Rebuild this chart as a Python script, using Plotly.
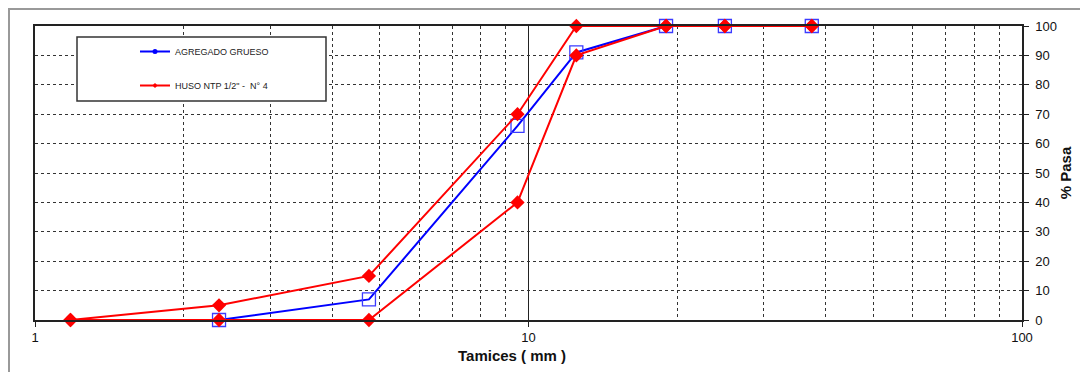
import plotly.graph_objects as go

# Data
sieves_blue = [2.36, 4.75, 9.5, 12.5, 19.0, 25.0, 37.5]
pasa_blue = [0, 7, 66, 91, 100, 100, 100]

sieves_huso = [1.18, 2.36, 4.75, 9.5, 12.5, 19.0, 25.0, 37.5]
huso_sup = [0, 5, 15, 70, 100, 100, 100, 100]
huso_inf = [0, 0, 0, 40, 90, 100, 100, 100]

name_blue = "AGREGADO GRUESO"
name_red = "HUSO NTP 1/2\" -  N° 4"

BLUE = "#0000ff"
RED = "#ff0000"

fig = go.Figure()
fig.add_trace(go.Scatter(
    x=sieves_blue, y=pasa_blue, mode="lines+markers", name=name_blue,
    showlegend=False, cliponaxis=False, line=dict(color=BLUE, width=2),
    marker=dict(symbol="square-open", size=13, color="#3b3bff", line=dict(width=1.3)),
))
fig.add_trace(go.Scatter(
    x=sieves_huso, y=huso_sup, mode="lines+markers", name=name_red,
    showlegend=False, cliponaxis=False, line=dict(color=RED, width=2),
    marker=dict(symbol="diamond", size=11, color=RED),
))
fig.add_trace(go.Scatter(
    x=sieves_huso, y=huso_inf, mode="lines+markers", name=name_red,
    showlegend=False, cliponaxis=False, line=dict(color=RED, width=2),
    marker=dict(symbol="diamond", size=11, color=RED),
))
# legend entries (small markers as in the original)
fig.add_trace(go.Scatter(
    x=[None], y=[None], mode="lines+markers", name=name_blue, legendgroup="b",
    line=dict(color=BLUE, width=2), marker=dict(symbol="circle", size=5, color=BLUE),
))
fig.add_trace(go.Scatter(
    x=[None], y=[None], mode="lines+markers", name=name_red, legendgroup="r",
    line=dict(color=RED, width=2), marker=dict(symbol="diamond", size=4, color=RED),
))

# page has an 8px body margin; figure coordinates = page - 8
OFF = 8
W, H = 1088 - OFF, 372 - OFF
L, T = 35 - OFF, 26 - OFF
R = W - (1022 - OFF)
B = H - (320 - OFF)
pw, ph = W - L - R, H - T - B

def px_x(p):  # page px -> paper
    return (p - OFF - L) / pw

def px_y(p):
    return (H - B - (p - OFF)) / ph

fig.update_layout(
    width=W, height=H,
    margin=dict(l=L, r=R, t=T, b=B, autoexpand=False),
    paper_bgcolor="white", plot_bgcolor="white",
    font=dict(family="Liberation Sans, Arial, sans-serif", color="#111", size=13),
    showlegend=True,
    legend=dict(
        x=px_x(135), y=px_y(37), xanchor="left", yanchor="top",
        bgcolor="rgba(0,0,0,0)", borderwidth=0,
        font=dict(size=9, color="#222"),
        traceorder="grouped", tracegroupgap=15,
        itemwidth=30,
    ),
    xaxis=dict(
        type="log", range=[0, 2], dtick=1,
        showline=True, linecolor="#222", linewidth=1.5, mirror=True,
        ticks="outside", ticklen=5, tickcolor="#222",
        showgrid=True, gridcolor="#222", gridwidth=1,
        minor=dict(dtick="D1", showgrid=True, gridcolor="#333",
                   griddash="dot", gridwidth=1, ticks=""),
        zeroline=False,
        tickfont=dict(size=13),
    ),
    yaxis=dict(
        side="right", range=[0, 100], dtick=10,
        showline=True, linecolor="#222", linewidth=1.5, mirror=True,
        ticks="outside", ticklen=5, tickcolor="#222",
        ticklabelstandoff=4,
        showgrid=True, gridcolor="#333", griddash="dot", gridwidth=1,
        zeroline=False,
        title=dict(text="<b>% Pasa</b>", font=dict(size=15, color="#111"),
                   standoff=4),
        tickfont=dict(size=13),
    ),
    annotations=[
        dict(text="<b>Tamices ( mm )</b>", xref="paper", yref="paper",
             x=px_x(512), y=px_y(355), xanchor="center", yanchor="middle",
             showarrow=False, font=dict(size=15, color="#111")),
    ],
    shapes=[
        # legend box
        dict(type="rect", xref="paper", yref="paper",
             x0=px_x(77), x1=px_x(326), y0=px_y(101), y1=px_y(37),
             line=dict(color="#333", width=1.5), fillcolor="white", layer="above"),
        # outer frame
        dict(type="rect", xref="paper", yref="paper",
             x0=px_x(9), x1=px_x(1120), y0=px_y(400), y1=px_y(9),
             line=dict(color="#999", width=2), fillcolor="rgba(0,0,0,0)", layer="below"),
    ],
)

fig.write_html("out.html")
